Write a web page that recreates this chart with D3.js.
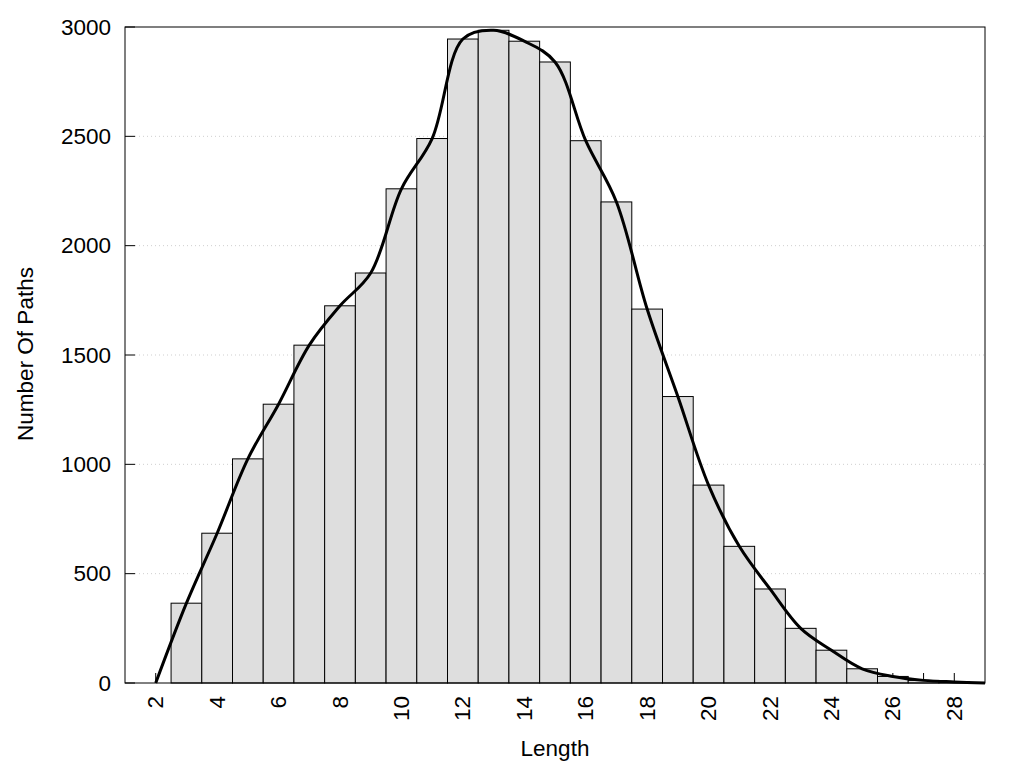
<!DOCTYPE html>
<html>
<head>
<meta charset="utf-8">
<script src="https://cdn.jsdelivr.net/npm/d3@7"></script>
<style>
  html, body { margin: 0; padding: 0; background: #fff; }
  svg { display: block; font-family: "Liberation Sans", Arial, sans-serif; }
</style>
</head>
<body>
<svg id="chart" width="1024" height="768"></svg>
<script>
// Data
const lengths = [3,4,5,6,7,8,9,10,11,12,13,14,15,16,17,18,19,20,21,22,23,24,25,26,27,28];
const counts  = [365,685,1025,1275,1545,1725,1875,2260,2490,2945,2985,2935,2840,2480,2200,1710,1310,905,625,430,250,150,65,30,12,5];
const curveStart = [2, 0];
const curveEnd = [29, 0];
const yTicks = [0,500,1000,1500,2000,2500,3000];
const xTickLabels = [2,4,6,8,10,12,14,16,18,20,22,24,26,28];
const xMinorTicks = d3.range(2, 29);
const xTitle = "Length";
const yTitle = "Number Of Paths";

(function () {
const svg = d3.select("#chart");
const pLeft = 125, pRight = 985, pTop = 27, pBottom = 683;
const x = d3.scaleLinear().domain([1, 29]).range([pLeft, pRight]);
const y = d3.scaleLinear().domain([0, 3000]).range([pBottom, pTop]);
const fs = 22.5;

// gridlines
svg.append("g").selectAll("line").data(yTicks.filter(d => d > 0 && d < 3000)).join("line")
  .attr("x1", pLeft + 10).attr("x2", pRight)
  .attr("y1", d => y(d)).attr("y2", d => y(d))
  .attr("stroke", "#cfcfcf").attr("stroke-width", 1).attr("stroke-dasharray", "1,3");

// y ticks (inward)
svg.append("g").selectAll("line").data(yTicks).join("line")
  .attr("x1", pLeft).attr("x2", pLeft + 10)
  .attr("y1", d => y(d)).attr("y2", d => y(d))
  .attr("stroke", "#000").attr("stroke-width", 1);

// x ticks (inward)
svg.append("g").selectAll("line").data(xMinorTicks).join("line")
  .attr("x1", d => x(d)).attr("x2", d => x(d))
  .attr("y1", pBottom).attr("y2", pBottom - 10)
  .attr("stroke", "#000").attr("stroke-width", 1);

// bars
svg.append("g").selectAll("rect").data(lengths).join("rect")
  .attr("x", d => x(d - 0.5))
  .attr("width", d => x(d + 0.5) - x(d - 0.5))
  .attr("y", (d, i) => y(counts[i]))
  .attr("height", (d, i) => y(0) - y(counts[i]))
  .attr("fill", "#dedede").attr("stroke", "#000").attr("stroke-width", 1);

// curve
const pts = [curveStart].concat(lengths.map((d, i) => [d, counts[i]])).concat([curveEnd]);
const line = d3.line().x(d => x(d[0])).y(d => y(d[1])).curve(d3.curveCatmullRom.alpha(0.5));
svg.append("path").datum(pts).attr("d", line)
  .attr("fill", "none").attr("stroke", "#000").attr("stroke-width", 3)
  .attr("stroke-linejoin", "round");

// frame
svg.append("rect").attr("x", pLeft).attr("y", pTop)
  .attr("width", pRight - pLeft).attr("height", pBottom - pTop)
  .attr("fill", "none").attr("stroke", "#000").attr("stroke-width", 1);

// y tick labels
svg.append("g").selectAll("text").data(yTicks).join("text")
  .attr("x", 111).attr("y", d => y(d))
  .attr("text-anchor", "end").attr("dominant-baseline", "central")
  .attr("font-size", fs).attr("fill", "#000")
  .text(d => d);

// x tick labels (rotated)
svg.append("g").selectAll("text").data(xTickLabels).join("text")
  .attr("transform", d => `translate(${x(d)},696) rotate(-90)`)
  .attr("text-anchor", "end").attr("dominant-baseline", "central")
  .attr("font-size", fs).attr("fill", "#000")
  .text(d => d);

// axis titles
svg.append("text").attr("x", 555).attr("y", 756)
  .attr("text-anchor", "middle").attr("font-size", fs).attr("fill", "#000")
  .text(xTitle);
svg.append("text").attr("transform", "translate(33,354) rotate(-90)")
  .attr("text-anchor", "middle").attr("font-size", fs).attr("fill", "#000")
  .text(yTitle);
})();
</script>
</body>
</html>
